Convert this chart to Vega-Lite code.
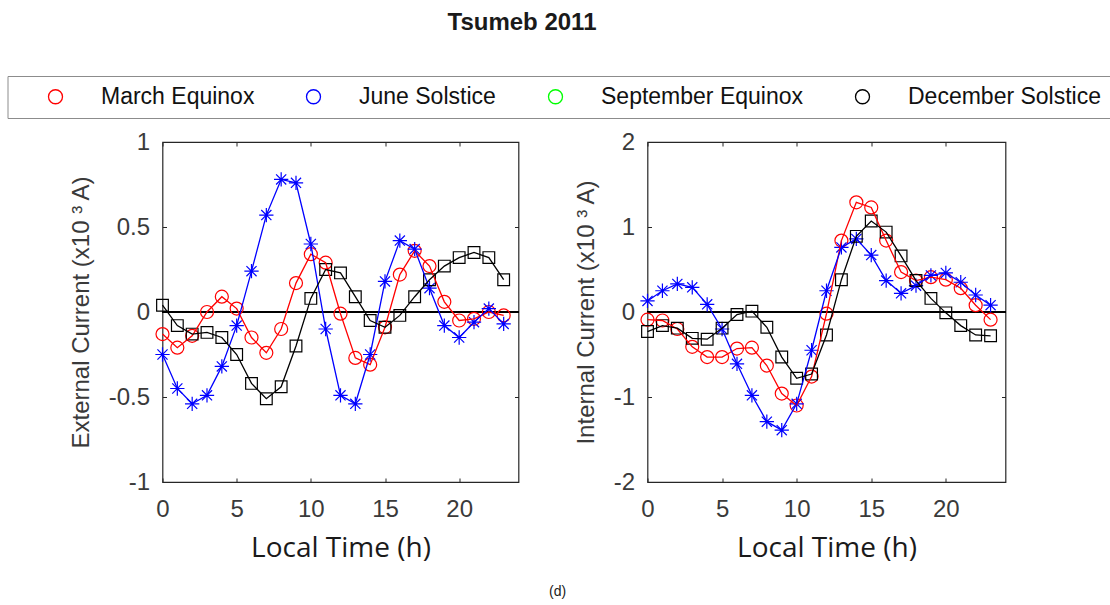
{
  "$schema": "https://vega.github.io/schema/vega-lite/v6.json",
  "padding": {"left": 6.5, "top": 10, "right": 4, "bottom": 4},
  "title": {"text": "Tsumeb 2011", "font": "Liberation Sans", "fontSize": 24, "fontWeight": "bold", "color": "#1a1a1a", "anchor": "middle", "dx": -37, "offset": 41},
  "datasets": {
    "currents": [
      {"panel":"External","season":"March Equinox","hour":0,"value":-0.13},{"panel":"External","season":"March Equinox","hour":1,"value":-0.21},{"panel":"External","season":"March Equinox","hour":2,"value":-0.14},{"panel":"External","season":"March Equinox","hour":3,"value":0.0},{"panel":"External","season":"March Equinox","hour":4,"value":0.09},{"panel":"External","season":"March Equinox","hour":5,"value":0.02},{"panel":"External","season":"March Equinox","hour":6,"value":-0.15},{"panel":"External","season":"March Equinox","hour":7,"value":-0.24},{"panel":"External","season":"March Equinox","hour":8,"value":-0.10},{"panel":"External","season":"March Equinox","hour":9,"value":0.17},{"panel":"External","season":"March Equinox","hour":10,"value":0.34},{"panel":"External","season":"March Equinox","hour":11,"value":0.29},{"panel":"External","season":"March Equinox","hour":12,"value":-0.01},{"panel":"External","season":"March Equinox","hour":13,"value":-0.27},{"panel":"External","season":"March Equinox","hour":14,"value":-0.31},{"panel":"External","season":"March Equinox","hour":15,"value":-0.09},{"panel":"External","season":"March Equinox","hour":16,"value":0.22},{"panel":"External","season":"March Equinox","hour":17,"value":0.36},{"panel":"External","season":"March Equinox","hour":18,"value":0.27},{"panel":"External","season":"March Equinox","hour":19,"value":0.06},{"panel":"External","season":"March Equinox","hour":20,"value":-0.05},{"panel":"External","season":"March Equinox","hour":21,"value":-0.04},{"panel":"External","season":"March Equinox","hour":22,"value":0.0},{"panel":"External","season":"March Equinox","hour":23,"value":-0.02},
      {"panel":"External","season":"June Solstice","hour":0,"value":-0.25},{"panel":"External","season":"June Solstice","hour":1,"value":-0.45},{"panel":"External","season":"June Solstice","hour":2,"value":-0.54},{"panel":"External","season":"June Solstice","hour":3,"value":-0.49},{"panel":"External","season":"June Solstice","hour":4,"value":-0.32},{"panel":"External","season":"June Solstice","hour":5,"value":-0.08},{"panel":"External","season":"June Solstice","hour":6,"value":0.24},{"panel":"External","season":"June Solstice","hour":7,"value":0.57},{"panel":"External","season":"June Solstice","hour":8,"value":0.78},{"panel":"External","season":"June Solstice","hour":9,"value":0.76},{"panel":"External","season":"June Solstice","hour":10,"value":0.40},{"panel":"External","season":"June Solstice","hour":11,"value":-0.10},{"panel":"External","season":"June Solstice","hour":12,"value":-0.49},{"panel":"External","season":"June Solstice","hour":13,"value":-0.54},{"panel":"External","season":"June Solstice","hour":14,"value":-0.25},{"panel":"External","season":"June Solstice","hour":15,"value":0.18},{"panel":"External","season":"June Solstice","hour":16,"value":0.42},{"panel":"External","season":"June Solstice","hour":17,"value":0.37},{"panel":"External","season":"June Solstice","hour":18,"value":0.14},{"panel":"External","season":"June Solstice","hour":19,"value":-0.08},{"panel":"External","season":"June Solstice","hour":20,"value":-0.15},{"panel":"External","season":"June Solstice","hour":21,"value":-0.06},{"panel":"External","season":"June Solstice","hour":22,"value":0.02},{"panel":"External","season":"June Solstice","hour":23,"value":-0.07},
      {"panel":"External","season":"December Solstice","hour":0,"value":0.04},{"panel":"External","season":"December Solstice","hour":1,"value":-0.08},{"panel":"External","season":"December Solstice","hour":2,"value":-0.13},{"panel":"External","season":"December Solstice","hour":3,"value":-0.12},{"panel":"External","season":"December Solstice","hour":4,"value":-0.15},{"panel":"External","season":"December Solstice","hour":5,"value":-0.25},{"panel":"External","season":"December Solstice","hour":6,"value":-0.42},{"panel":"External","season":"December Solstice","hour":7,"value":-0.51},{"panel":"External","season":"December Solstice","hour":8,"value":-0.44},{"panel":"External","season":"December Solstice","hour":9,"value":-0.20},{"panel":"External","season":"December Solstice","hour":10,"value":0.08},{"panel":"External","season":"December Solstice","hour":11,"value":0.25},{"panel":"External","season":"December Solstice","hour":12,"value":0.23},{"panel":"External","season":"December Solstice","hour":13,"value":0.09},{"panel":"External","season":"December Solstice","hour":14,"value":-0.05},{"panel":"External","season":"December Solstice","hour":15,"value":-0.09},{"panel":"External","season":"December Solstice","hour":16,"value":-0.02},{"panel":"External","season":"December Solstice","hour":17,"value":0.09},{"panel":"External","season":"December Solstice","hour":18,"value":0.19},{"panel":"External","season":"December Solstice","hour":19,"value":0.27},{"panel":"External","season":"December Solstice","hour":20,"value":0.32},{"panel":"External","season":"December Solstice","hour":21,"value":0.35},{"panel":"External","season":"December Solstice","hour":22,"value":0.32},{"panel":"External","season":"December Solstice","hour":23,"value":0.19},
      {"panel":"Internal","season":"March Equinox","hour":0,"value":-0.09},{"panel":"Internal","season":"March Equinox","hour":1,"value":-0.10},{"panel":"Internal","season":"March Equinox","hour":2,"value":-0.20},{"panel":"Internal","season":"March Equinox","hour":3,"value":-0.41},{"panel":"Internal","season":"March Equinox","hour":4,"value":-0.53},{"panel":"Internal","season":"March Equinox","hour":5,"value":-0.53},{"panel":"Internal","season":"March Equinox","hour":6,"value":-0.43},{"panel":"Internal","season":"March Equinox","hour":7,"value":-0.42},{"panel":"Internal","season":"March Equinox","hour":8,"value":-0.63},{"panel":"Internal","season":"March Equinox","hour":9,"value":-0.96},{"panel":"Internal","season":"March Equinox","hour":10,"value":-1.10},{"panel":"Internal","season":"March Equinox","hour":11,"value":-0.76},{"panel":"Internal","season":"March Equinox","hour":12,"value":-0.02},{"panel":"Internal","season":"March Equinox","hour":13,"value":0.84},{"panel":"Internal","season":"March Equinox","hour":14,"value":1.29},{"panel":"Internal","season":"March Equinox","hour":15,"value":1.23},{"panel":"Internal","season":"March Equinox","hour":16,"value":0.84},{"panel":"Internal","season":"March Equinox","hour":17,"value":0.47},{"panel":"Internal","season":"March Equinox","hour":18,"value":0.37},{"panel":"Internal","season":"March Equinox","hour":19,"value":0.41},{"panel":"Internal","season":"March Equinox","hour":20,"value":0.38},{"panel":"Internal","season":"March Equinox","hour":21,"value":0.28},{"panel":"Internal","season":"March Equinox","hour":22,"value":0.08},{"panel":"Internal","season":"March Equinox","hour":23,"value":-0.09},
      {"panel":"Internal","season":"June Solstice","hour":0,"value":0.13},{"panel":"Internal","season":"June Solstice","hour":1,"value":0.25},{"panel":"Internal","season":"June Solstice","hour":2,"value":0.33},{"panel":"Internal","season":"June Solstice","hour":3,"value":0.29},{"panel":"Internal","season":"June Solstice","hour":4,"value":0.09},{"panel":"Internal","season":"June Solstice","hour":5,"value":-0.20},{"panel":"Internal","season":"June Solstice","hour":6,"value":-0.61},{"panel":"Internal","season":"June Solstice","hour":7,"value":-0.98},{"panel":"Internal","season":"June Solstice","hour":8,"value":-1.29},{"panel":"Internal","season":"June Solstice","hour":9,"value":-1.39},{"panel":"Internal","season":"June Solstice","hour":10,"value":-1.08},{"panel":"Internal","season":"June Solstice","hour":11,"value":-0.45},{"panel":"Internal","season":"June Solstice","hour":12,"value":0.25},{"panel":"Internal","season":"June Solstice","hour":13,"value":0.76},{"panel":"Internal","season":"June Solstice","hour":14,"value":0.86},{"panel":"Internal","season":"June Solstice","hour":15,"value":0.67},{"panel":"Internal","season":"June Solstice","hour":16,"value":0.37},{"panel":"Internal","season":"June Solstice","hour":17,"value":0.22},{"panel":"Internal","season":"June Solstice","hour":18,"value":0.31},{"panel":"Internal","season":"June Solstice","hour":19,"value":0.43},{"panel":"Internal","season":"June Solstice","hour":20,"value":0.46},{"panel":"Internal","season":"June Solstice","hour":21,"value":0.35},{"panel":"Internal","season":"June Solstice","hour":22,"value":0.20},{"panel":"Internal","season":"June Solstice","hour":23,"value":0.08},
      {"panel":"Internal","season":"December Solstice","hour":0,"value":-0.23},{"panel":"Internal","season":"December Solstice","hour":1,"value":-0.16},{"panel":"Internal","season":"December Solstice","hour":2,"value":-0.19},{"panel":"Internal","season":"December Solstice","hour":3,"value":-0.31},{"panel":"Internal","season":"December Solstice","hour":4,"value":-0.32},{"panel":"Internal","season":"December Solstice","hour":5,"value":-0.19},{"panel":"Internal","season":"December Solstice","hour":6,"value":-0.03},{"panel":"Internal","season":"December Solstice","hour":7,"value":0.01},{"panel":"Internal","season":"December Solstice","hour":8,"value":-0.18},{"panel":"Internal","season":"December Solstice","hour":9,"value":-0.53},{"panel":"Internal","season":"December Solstice","hour":10,"value":-0.78},{"panel":"Internal","season":"December Solstice","hour":11,"value":-0.73},{"panel":"Internal","season":"December Solstice","hour":12,"value":-0.27},{"panel":"Internal","season":"December Solstice","hour":13,"value":0.38},{"panel":"Internal","season":"December Solstice","hour":14,"value":0.89},{"panel":"Internal","season":"December Solstice","hour":15,"value":1.07},{"panel":"Internal","season":"December Solstice","hour":16,"value":0.94},{"panel":"Internal","season":"December Solstice","hour":17,"value":0.66},{"panel":"Internal","season":"December Solstice","hour":18,"value":0.37},{"panel":"Internal","season":"December Solstice","hour":19,"value":0.16},{"panel":"Internal","season":"December Solstice","hour":20,"value":-0.01},{"panel":"Internal","season":"December Solstice","hour":21,"value":-0.16},{"panel":"Internal","season":"December Solstice","hour":22,"value":-0.27},{"panel":"Internal","season":"December Solstice","hour":23,"value":-0.28}
    ]
  },
  "resolve": {"scale": {"color": "shared", "shape": "shared", "x": "independent", "y": "independent"}},
  "vconcat": [
    {
      "title": {"text": "(d)", "orient": "bottom", "anchor": "middle", "font": "Liberation Sans", "fontSize": 14, "fontWeight": "normal", "color": "#222222", "dx": 20, "offset": 22},
      "spacing": 53,
      "resolve": {"scale": {"color": "shared", "shape": "shared", "x": "independent", "y": "independent"}},
      "hconcat": [
        {
          "width": 356,
          "height": 340,
          "data": {"name": "currents"},
          "transform": [{"filter": "datum.panel === 'External'"}],
          "resolve": {"axis": {"x": "independent", "y": "independent"}},
          "layer": [
            {
              "mark": {"type": "rule", "color": "#000000", "strokeWidth": 1.2},
              "encoding": {"y": {"datum": 0, "type": "quantitative", "scale": {"domain": [-1, 1], "nice": false}, "axis": null}}
            },
            {
              "mark": {"type": "point", "filled": false, "size": 169, "strokeWidth": 1.2, "opacity": 1},
              "encoding": {
                "x": {"field": "hour", "type": "quantitative", "scale": {"domain": [0, 24], "nice": false}, "axis": {"orient": "top", "values": [0, 5, 10, 15, 20], "labels": false, "title": null}},
                "y": {"field": "value", "type": "quantitative", "scale": {"domain": [-1, 1], "nice": false}, "axis": {"orient": "right", "values": [-1, -0.5, 0, 0.5, 1], "labels": false, "title": null}},
                "color": {
                  "field": "season", "type": "nominal",
                  "scale": {"domain": ["March Equinox", "June Solstice", "September Equinox", "December Solstice"], "range": ["#ff0000", "#0000ff", "#00ff00", "#000000"]},
                  "legend": {
                    "orient": "none", "legendX": -155, "legendY": -66, "direction": "horizontal", "title": null,
                    "padding": 9, "strokeColor": "#8c8c8c",
                    "symbolSize": 196, "symbolStrokeWidth": 1.3, "symbolOffset": 27.5, "labelOffset": 34, "columnPadding": 20,
                    "labelFont": "Liberation Sans", "labelFontSize": 23, "labelColor": "#111111", "labelLimit": 400,
                    "encode": {
                      "legend": {"update": {"strokeWidth": {"value": 3}, "strokeDash": {"value": [1101, 41, 1101, 41]}}},
                      "symbols": {"update": {
                        "shape": {"signal": "datum.value === 'March Equinox' ? 'M-5.7,0L5.7,0M-1,0A1,1 0 1,1 1,0A1,1 0 1,1 -1,0' : datum.value === 'June Solstice' ? 'M-5.7,0L5.7,0M0,-1L0,1M-0.75,-0.75L0.75,0.75M-0.75,0.75L0.75,-0.75' : datum.value === 'September Equinox' ? 'M-5.7,0L5.7,0M0,-1.3L1.4,0.85L-1.4,0.85Z' : 'M-5.7,0L5.7,0M-0.85,-0.85L0.85,-0.85L0.85,0.85L-0.85,0.85Z'"},
                        "fill": {"value": "transparent"},
                        "strokeWidth": {"value": 1.3}
                      }}
                    }
                  }
                },
                "shape": {"field": "season", "type": "nominal", "scale": {"range": ["M-0.9,-0.9L0.9,-0.9L0.9,0.9L-0.9,0.9Z", "M-1.1,0L1.1,0M0,-1.1L0,1.1M-0.78,-0.78L0.78,0.78M-0.78,0.78L0.78,-0.78", "circle"]}, "legend": null}
              }
            },
            {
              "mark": {"type": "line", "strokeWidth": 1.3},
              "encoding": {
                "x": {"field": "hour", "type": "quantitative", "axis": {"orient": "bottom", "values": [0, 5, 10, 15, 20], "title": "Local Time (h)"}},
                "y": {"field": "value", "type": "quantitative", "axis": {"orient": "left", "values": [-1, -0.5, 0, 0.5, 1], "title": "External Current (x10 ³ A)"}},
                "color": {"field": "season", "type": "nominal"}
              }
            }
          ]
        },
        {
          "width": 358,
          "height": 340,
          "data": {"name": "currents"},
          "transform": [{"filter": "datum.panel === 'Internal'"}],
          "resolve": {"axis": {"x": "independent", "y": "independent"}},
          "layer": [
            {
              "mark": {"type": "rule", "color": "#000000", "strokeWidth": 1.2},
              "encoding": {"y": {"datum": 0, "type": "quantitative", "scale": {"domain": [-2, 2], "nice": false}, "axis": null}}
            },
            {
              "mark": {"type": "point", "filled": false, "size": 169, "strokeWidth": 1.2, "opacity": 1},
              "encoding": {
                "x": {"field": "hour", "type": "quantitative", "scale": {"domain": [0, 24], "nice": false}, "axis": {"orient": "top", "values": [0, 5, 10, 15, 20], "labels": false, "title": null}},
                "y": {"field": "value", "type": "quantitative", "scale": {"domain": [-2, 2], "nice": false}, "axis": {"orient": "right", "values": [-2, -1, 0, 1, 2], "labels": false, "title": null}},
                "color": {"field": "season", "type": "nominal"},
                "shape": {"field": "season", "type": "nominal", "legend": null}
              }
            },
            {
              "mark": {"type": "line", "strokeWidth": 1.3},
              "encoding": {
                "x": {"field": "hour", "type": "quantitative", "axis": {"orient": "bottom", "values": [0, 5, 10, 15, 20], "title": "Local Time (h)"}},
                "y": {"field": "value", "type": "quantitative", "axis": {"orient": "left", "values": [-2, -1, 0, 1, 2], "title": "Internal Current (x10 ³ A)"}},
                "color": {"field": "season", "type": "nominal"}
              }
            }
          ]
        }
      ]
    }
  ],
  "config": {
    "view": {"stroke": "#262626", "strokeWidth": 1.2},
    "axis": {
      "grid": false, "domain": false, "tickSize": -4, "tickColor": "#262626", "tickWidth": 1,
      "labelFont": "Liberation Sans", "labelFontSize": 24, "labelColor": "#3a3a3a",
      "labelFlush": false, "labelOverlap": false, "format": "~g",
      "labelExpr": "replace(datum.label, '−', '-')",
      "titleFontWeight": "normal"
    },
    "axisX": {"labelPadding": 19, "titleFont": "Open Sans", "titleFontSize": 28, "titleColor": "#1a1a1a", "titlePadding": 13},
    "axisY": {"labelPadding": 17, "titleFont": "Liberation Sans", "titleFontSize": 24, "titleColor": "#3a3a3a", "titlePadding": 15}
  }
}
